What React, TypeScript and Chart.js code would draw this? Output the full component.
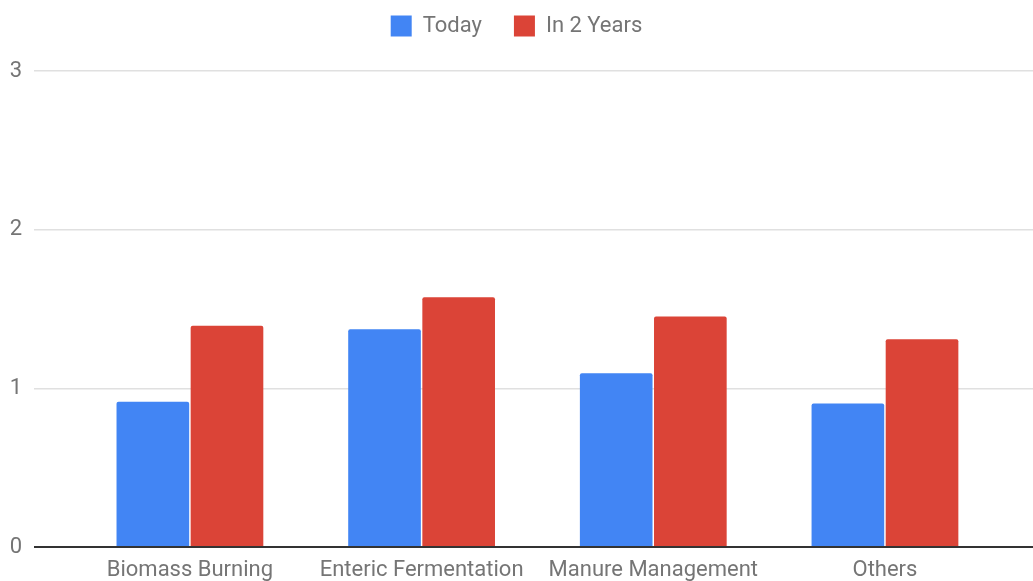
import React, { useEffect, useRef } from "react";
import { Chart, registerables } from "chart.js";

Chart.register(...registerables);

const categories = ["Biomass Burning", "Enteric Fermentation", "Manure Management", "Others"];
const todayValues = [0.915, 1.372, 1.095, 0.905];
const inTwoYearsValues = [1.395, 1.574, 1.452, 1.309];
const yTicks = [0, 1, 2, 3];
const seriesNames = ["Today", "In 2 Years"];

const legendSpacing = {
  id: "legendSpacing",
  beforeLayout(chart: any) {
    const lg: any = chart.legend;
    if (lg && !lg._patched) {
      const orig = lg.fit;
      lg.fit = function () {
        orig.call(this);
        this.height += 24;
      };
      lg._patched = true;
    }
  },
};

export default function App() {
  const ref = useRef<HTMLCanvasElement | null>(null);

  useEffect(() => {
    document.body.style.margin = "0";
    const canvas = ref.current;
    if (!canvas) return;
    const font = "Roboto, 'Noto Sans', Arial, sans-serif";
    const chart = new Chart(canvas, {
      type: "bar",
      data: {
        datasets: [
          {
            label: seriesNames[0],
            data: todayValues.map((v, i) => ({ x: i, y: v })),
            backgroundColor: "#4285F4",
            borderRadius: { topLeft: 2, topRight: 2, bottomLeft: 0, bottomRight: 0 },
            borderSkipped: false,
          },
          {
            label: seriesNames[1],
            data: inTwoYearsValues.map((v, i) => ({ x: i, y: v })),
            backgroundColor: "#DB4437",
            borderRadius: { topLeft: 2, topRight: 2, bottomLeft: 0, bottomRight: 0 },
            borderSkipped: false,
          },
        ],
      },
      plugins: [legendSpacing],
      options: {
        animation: false,
        responsive: false,
        maintainAspectRatio: false,
        layout: { padding: { top: -17, right: 0, bottom: 0, left: 0 } },
        datasets: { bar: { categoryPercentage: 0.64, barPercentage: 0.98 } },
        plugins: {
          legend: {
            display: true,
            position: "top",
            labels: {
              boxWidth: 21,
              boxHeight: 21,
              padding: 32,
              color: "#757575",
              font: { family: font, size: 22 },
            },
          },
          tooltip: { enabled: false },
        },
        scales: {
          x: {
            type: "linear",
            offset: false,
            min: -0.673,
            max: 3.639,
            afterBuildTicks: (scale: any) => {
              scale.ticks = categories.map((_, i) => ({ value: i }));
            },
            afterFit: (scale: any) => {
              scale.height = 34;
            },
            ticks: {
              autoSkip: false,
              maxRotation: 0,
              padding: 10,
              color: "#757575",
              font: { family: font, size: 22 },
              callback: (v: any) => categories[v] ?? "",
            },
            grid: { display: false, drawTicks: false, offset: false },
            border: { display: false },
          },
          y: {
            min: 0,
            max: 3,
            afterBuildTicks: (scale: any) => {
              scale.ticks = yTicks.map((v) => ({ value: v }));
            },
            afterFit: (scale: any) => {
              scale.width = 34;
            },
            ticks: {
              padding: 12,
              color: "#757575",
              font: { family: font, size: 22 },
            },
            grid: {
              drawTicks: false,
              color: (ctx: any) => (ctx.tick && ctx.tick.value === 0 ? "#333333" : "#e0e0e0"),
              lineWidth: (ctx: any) => (ctx.tick && ctx.tick.value === 0 ? 2 : 1.5),
            },
            border: { display: false },
          },
        },
      },
    });
    return () => chart.destroy();
  }, []);

  return (
    <div style={{ width: 1033, height: 581, background: "#fff" }}>
      <canvas ref={ref} width={1033} height={581} style={{ display: "block" }} />
    </div>
  );
}
